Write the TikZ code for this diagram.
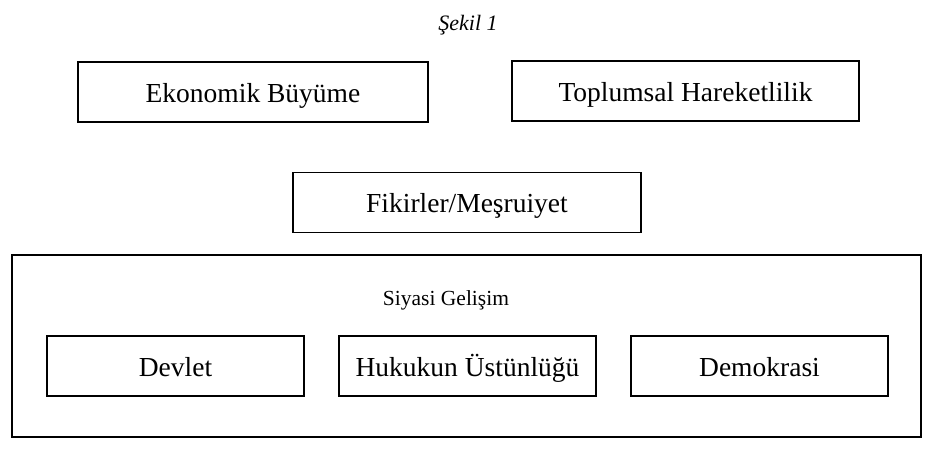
\documentclass[tikz,border=0pt]{standalone}
\usepackage{fontspec}
\setmainfont{Liberation Serif}
\begin{document}
\begin{tikzpicture}[x=1pt,y=-1pt,
  box/.style={draw=black,line width=1.8pt,minimum width=#1,minimum height=60pt,inner sep=0pt,text height=25pt,text depth=5pt,font=\fontsize{27.5}{30}\selectfont},
  box/.default=350pt]
\useasboundingbox (0,0) rectangle (939,456);
\node[anchor=base,font=\fontsize{22}{24}\selectfont\itshape] (title) at (468,30) {Şekil 1};
\node[box=350pt] (eko) at (253,92) {Ekonomik Büyüme};
\node[box=347pt] (top) at (685.5,91) {Toplumsal Hareketlilik};
\node[box=348pt] (fik) at (467,202.5) {Fikirler/Meşruiyet};
\node[draw=black,line width=1.8pt,minimum width=909pt,minimum height=182pt,inner sep=0pt] (siy) at (466.5,346) {};
\node[anchor=base,font=\fontsize{21.5}{24}\selectfont] (siyt) at (446,305) {Siyasi Gelişim};
\node[box=257pt] (dev) at (175.5,366) {Devlet};
\node[box=257pt] (huk) at (467.5,366) {Hukukun Üstünlüğü};
\node[box=257pt] (dem) at (759.5,366) {Demokrasi};
\end{tikzpicture}
\end{document}
